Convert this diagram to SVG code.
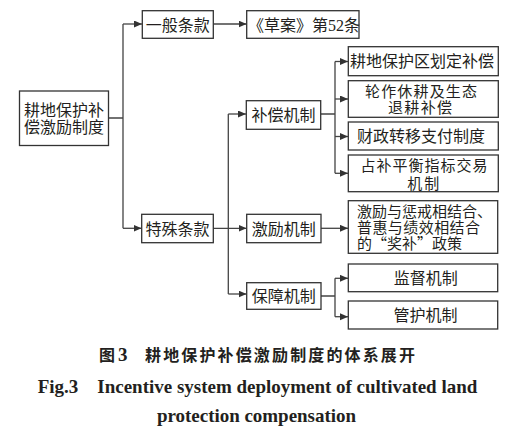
<svg xmlns="http://www.w3.org/2000/svg" width="508" height="433" viewBox="0 0 508 433">
<style>
.box{fill:#fff;stroke:#333;stroke-width:1.3}
.t{font-family:"Noto Sans CJK SC","Noto Sans",sans-serif;font-size:16px;fill:#231f20}
.m{font-size:15px}
.c{text-anchor:middle}
.ln{fill:none;stroke:#444;stroke-width:1.3}
.cap{font-family:"Noto Sans CJK SC",sans-serif;font-size:16px;font-weight:bold;fill:#231f20}
.en{font-family:"Liberation Serif","Noto Serif",serif;font-weight:bold;font-size:19px;fill:#231f20}
</style>
<defs>
<marker id="ah" markerUnits="userSpaceOnUse" markerWidth="9" markerHeight="8" refX="8" refY="3.5" orient="auto">
<path d="M0,0 L8,3.5 L0,7 z" fill="#333"/>
</marker>
</defs>
<rect width="508" height="433" fill="#fff"/>
<g id="connectors">
<path class="ln" d="M108.5,118 H123 M123,24 V228.3"/>
<path class="ln" d="M123,24 H142" marker-end="url(#ah)"/>
<path class="ln" d="M123,228.3 H141.5" marker-end="url(#ah)"/>
<path class="ln" d="M213.3,24 H246.5" marker-end="url(#ah)"/>
<path class="ln" d="M213.3,228.3 H246.5" marker-end="url(#ah)"/>
<path class="ln" d="M228.3,114 V294"/>
<path class="ln" d="M228.3,114 H246" marker-end="url(#ah)"/>
<path class="ln" d="M228.3,294 H246.5" marker-end="url(#ah)"/>
<path class="ln" d="M320.7,114 H335 M335,61.5 V173.3"/>
<path class="ln" d="M335,61.5 H348" marker-end="url(#ah)"/>
<path class="ln" d="M335,99 H348" marker-end="url(#ah)"/>
<path class="ln" d="M335,136.5 H348" marker-end="url(#ah)"/>
<path class="ln" d="M335,173.3 H348" marker-end="url(#ah)"/>
<path class="ln" d="M321,228.3 H348" marker-end="url(#ah)"/>
<path class="ln" d="M321,296 H335 M335,278.3 V316.7"/>
<path class="ln" d="M335,278.3 H348" marker-end="url(#ah)"/>
<path class="ln" d="M335,316.7 H348" marker-end="url(#ah)"/>
</g>
<g id="root">
<rect class="box" x="19.5" y="91" width="89" height="54.5"/>
<text class="t c" x="64" y="115.7">耕地保护补</text>
<text class="t c" x="64" y="132.7">偿激励制度</text>
</g>
<g id="general">
<rect class="box" x="142.3" y="10.7" width="71" height="27.6"/>
<text class="t c" x="177.8" y="30.7">一般条款</text>
</g>
<g id="draft">
<rect class="box" x="246.7" y="10.7" width="112.3" height="27.6"/>
<text class="t" x="248" y="30.7">《草案》第<tspan font-family="Liberation Serif,serif">52</tspan>条</text>
</g>
<g id="special">
<rect class="box" x="141.7" y="214.3" width="71.6" height="28.4"/>
<text class="t c" x="177.5" y="234.5">特殊条款</text>
</g>
<g id="compensation">
<rect class="box" x="246.3" y="100.7" width="74.4" height="28.6"/>
<text class="t c" x="283.5" y="121">补偿机制</text>
</g>
<g id="incentive">
<rect class="box" x="246.7" y="214.3" width="74.3" height="28.4"/>
<text class="t c" x="283.8" y="234.5">激励机制</text>
</g>
<g id="guarantee">
<rect class="box" x="246.7" y="282.7" width="74.3" height="26.6"/>
<text class="t c" x="283.8" y="302">保障机制</text>
</g>
<g id="c1">
<rect class="box" x="348.3" y="46.7" width="150" height="29"/>
<text class="t c" x="422" y="67">耕地保护区划定补偿</text>
</g>
<g id="c2">
<rect class="box" x="348.3" y="80.7" width="150" height="36.6"/>
<text class="t m c" x="421" y="96.8" textLength="112" lengthAdjust="spacing">轮作休耕及生态</text>
<text class="t m c" x="420" y="113" textLength="64" lengthAdjust="spacing">退耕补偿</text>
</g>
<g id="c3">
<rect class="box" x="348.3" y="122" width="150" height="28"/>
<text class="t c" x="421" y="142">财政转移支付制度</text>
</g>
<g id="c4">
<rect class="box" x="348.3" y="155" width="150" height="36.7"/>
<text class="t m c" x="424" y="170.5" textLength="127" lengthAdjust="spacing">占补平衡指标交易</text>
<text class="t m c" x="423.3" y="188.5" textLength="32" lengthAdjust="spacing">机制</text>
</g>
<g id="i1">
<rect class="box" x="348.3" y="200.7" width="149.4" height="52.6"/>
<text class="t m" x="357" y="217.2">激励与惩戒相结合、</text>
<text class="t m" x="357" y="233.3" textLength="123" lengthAdjust="spacing">普惠与绩效相结合</text>
<text class="t m" x="357" y="249.3">的“奖补”政策</text>
</g>
<g id="g1">
<rect class="box" x="348.3" y="264" width="149.4" height="27.7"/>
<text class="t c" x="425.8" y="283.8">监督机制</text>
</g>
<g id="g2">
<rect class="box" x="348.3" y="301" width="149.4" height="28"/>
<text class="t c" x="425.5" y="321">管护机制</text>
</g>
<g id="caption">
<text class="cap" x="99" y="361.3">图</text>
<text class="en" x="118" y="361.3" font-size="16">3</text>
<text class="cap" x="145" y="361.3" textLength="270" lengthAdjust="spacing">耕地保护补偿激励制度的体系展开</text>
<text class="en" x="37.7" y="393.3">Fig.3</text>
<text class="en" x="97.3" y="393.3" textLength="380" lengthAdjust="spacing">Incentive system deployment of cultivated land</text>
<text class="en" x="157" y="421.7" textLength="199" lengthAdjust="spacing">protection compensation</text>
</g>
</svg>
